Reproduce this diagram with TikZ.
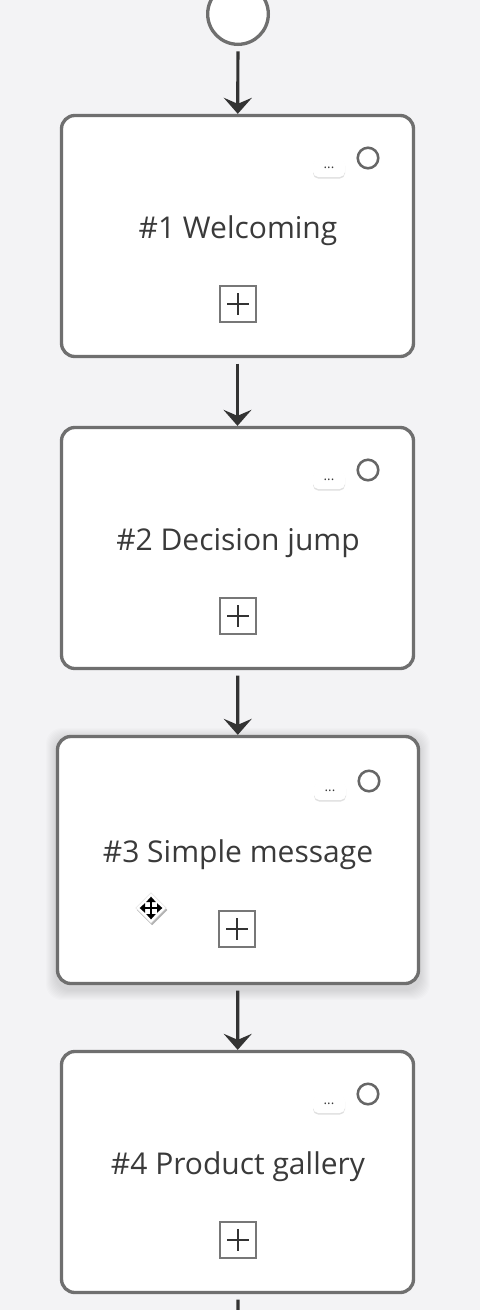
\documentclass[tikz,border=0pt]{standalone}
\usepackage{fontspec}
\setmainfont{Open Sans}
\usetikzlibrary{positioning, calc, arrows.meta, shapes.geometric}

\definecolor{bgcolor}{HTML}{F3F3F5}
\definecolor{edgegray}{HTML}{6F6F6F}
\definecolor{arrowgray}{HTML}{333333}
\definecolor{textgray}{HTML}{3A3A3A}
\definecolor{ringgray}{HTML}{666666}
\definecolor{plusgray}{HTML}{777777}

\begin{document}
\begin{tikzpicture}[x=0.75pt, y=-0.75pt,
    block/.style={draw=edgegray, line width=2.5pt, fill=white, rounded corners=10pt,
        minimum width=264pt, minimum height=180.75pt, inner sep=0pt},
    bigblock/.style={block, minimum width=270.75pt, minimum height=185.25pt},
    title/.style={text=textgray, font=\fontsize{22.5}{27}\selectfont, inner sep=0pt},
    startnode/.style={circle, draw=edgegray, line width=2.5pt, fill=white,
        minimum size=45.5pt, inner sep=0pt},
    flow/.style={draw=arrowgray, line width=2.4pt,
        -{Stealth[length=12pt, width=21pt, inset=4.5pt]}, shorten <=4pt},
    menubtn/.style={fill=white, rounded corners=4pt, minimum width=24pt, minimum height=13.5pt,
        inner sep=0pt, text=textgray, font=\fontsize{10}{10}\selectfont,
        preaction={fill=black!12, transform canvas={yshift=-1.2pt}}},
    ring/.style={circle, draw=ringgray, line width=1.9pt, fill=white,
        minimum size=15.4pt, inner sep=0pt},
    plusbox/.style={draw=plusgray, line width=1.5pt, fill=white, minimum size=27pt, inner sep=0pt,
        path picture={\draw[line width=1.9pt, arrowgray]
            ([xshift=-8pt]path picture bounding box.center) -- ([xshift=8pt]path picture bounding box.center)
            ([yshift=-8pt]path picture bounding box.center) -- ([yshift=8pt]path picture bounding box.center);}},
    movecursor/.style={diamond, fill=white, draw=black!10, line width=0.4pt, minimum size=23pt, inner sep=0pt,
        preaction={fill=black, opacity=0.3, transform canvas={xshift=0.8pt, yshift=-1.5pt}}}
]
    % 背景
    \fill[bgcolor] (0,0) rectangle (480,1310);
    \useasboundingbox (0,0) rectangle (480,1310);

    % 開始
    \node[startnode] (s) at (238,14) {};

    % ブロック 1
    \node[block] (b1) at (237.5,236) {};
    \node[title] (t1) at (238,231) {\#1 Welcoming};
    \node[menubtn] (m1) at (329,168) {...};
    \node[ring] (r1) at (368,158) {};
    \node[plusbox] (p1) at (238,304) {};

    % ブロック 2
    \node[block] (b2) at (237.5,548) {};
    \node[title] (t2) at (238,543) {\#2 Decision jump};
    \node[menubtn] (m2) at (329,480) {...};
    \node[ring] (r2) at (368,470) {};
    \node[plusbox] (p2) at (238,616) {};

    % ブロック 3（影つき）
    \foreach \k in {1,...,10}
        \fill[black, opacity=0.012, rounded corners=12pt] ({56-\k},{738-\k}) rectangle ({420+\k},{990+\k});
    \node[bigblock] (b3) at (238,860) {};
    \node[title] (t3) at (238,855) {\#3 Simple message};
    \node[menubtn] (m3) at (330,791) {...};
    \node[ring] (r3) at (369,781) {};
    \node[plusbox] (p3) at (237,929) {};

    % カーソル
    \node[movecursor] (mv) at (151,908) {};
    \draw[line width=2pt, {Triangle[length=4pt, width=7pt]}-{Triangle[length=4pt, width=7pt]}]
        ([xshift=-8.5pt]mv.center) -- ([xshift=8.5pt]mv.center);
    \draw[line width=2pt, {Triangle[length=4pt, width=7pt]}-{Triangle[length=4pt, width=7pt]}]
        ([yshift=-8.5pt]mv.center) -- ([yshift=8.5pt]mv.center);

    % ブロック 4
    \node[block] (b4) at (237.5,1172) {};
    \node[title] (t4) at (238,1167) {\#4 Product gallery};
    \node[menubtn] (m4) at (329,1104) {...};
    \node[ring] (r4) at (368,1094) {};
    \node[plusbox] (p4) at (238,1240) {};

    % 矢印
    \coordinate (end) at (238,1310);
    \draw[flow] (s) -- (b1);
    \draw[flow] (b1) -- (b2);
    \draw[flow] (b2) -- (b3);
    \draw[flow] (b3) -- (b4);
    \draw[draw=arrowgray, line width=2.4pt, shorten <=4pt] (b4) -- (end);

\end{tikzpicture}
\end{document}
